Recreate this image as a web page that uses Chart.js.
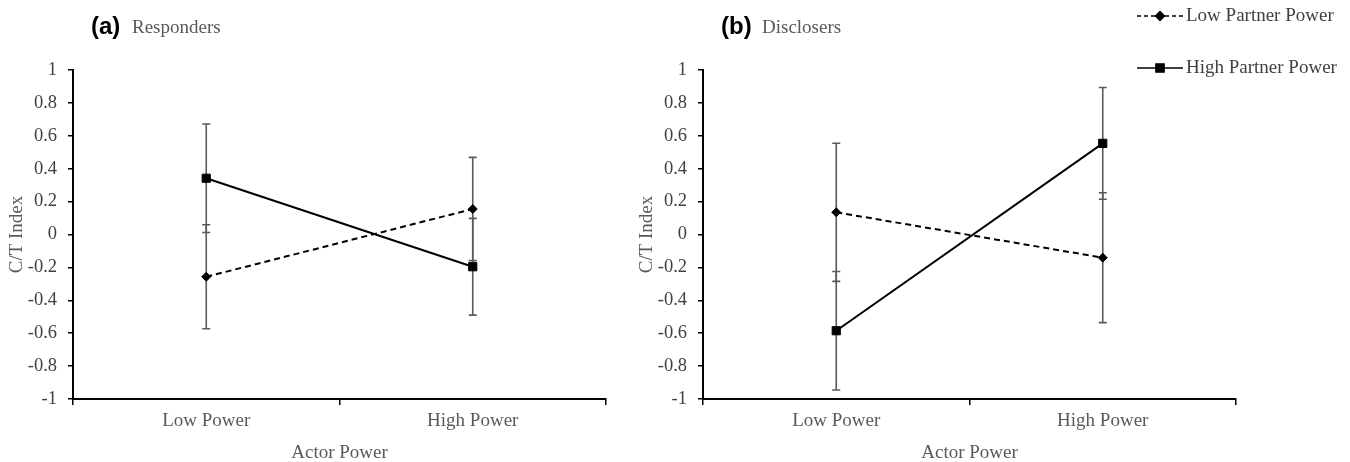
<!DOCTYPE html>
<html><head><meta charset="utf-8">
<script src="https://cdn.jsdelivr.net/npm/chart.js@4/dist/chart.umd.min.js"></script>
<style>
html,body{margin:0;padding:0;background:#fff;}
#wrap{position:relative;width:1350px;height:462px;overflow:hidden;}
.panel{position:absolute;top:0;height:462px;}
canvas{display:block;}
</style></head><body>
<div id="wrap">
<div class="panel" style="left:0;width:630px"><canvas id="ca" width="630" height="462"></canvas></div>
<div class="panel" style="left:630px;width:720px"><canvas id="cb" width="720" height="462"></canvas></div>
</div>
<script>
// ---- data ----
const categories = ['Low Power', 'High Power'];
const seriesNames = ['Low Partner Power', 'High Partner Power'];
const yTickValues = [-1, -0.8, -0.6, -0.4, -0.2, 0, 0.2, 0.4, 0.6, 0.8, 1];
const yTickLabels = ['-1', '-0.8', '-0.6', '-0.4', '-0.2', '0', '0.2', '0.4', '0.6', '0.8', '1'];

const respondersLowPartner = [-0.257, 0.155];
const respondersLowPartnerErr = [0.316, 0.314];
const respondersHighPartner = [0.342, -0.196];
const respondersHighPartnerErr = [0.330, 0.294];

const disclosersLowPartner = [0.135, -0.141];
const disclosersLowPartnerErr = [0.420, 0.395];
const disclosersHighPartner = [-0.585, 0.554];
const disclosersHighPartnerErr = [0.360, 0.340];

// ---- styling ----
const SERIF = "'Liberation Serif', 'Times New Roman', serif";
const SANS = "'Liberation Sans', Arial, sans-serif";
const TXT = '#595959';
const TICKTXT = '#404040';

const errorBarPlugin = {
  id: 'errorBars',
  beforeDatasetsDraw(chart) {
    const ctx = chart.ctx;
    const yScale = chart.scales.y;
    ctx.save();
    ctx.strokeStyle = '#5a5a5a';
    ctx.lineWidth = 1.6;
    chart.data.datasets.forEach((ds, i) => {
      const meta = chart.getDatasetMeta(i);
      meta.data.forEach((pt, j) => {
        const v = ds.data[j], e = ds.errors[j];
        const x = pt.x;
        const yT = yScale.getPixelForValue(v + e);
        const yB = yScale.getPixelForValue(v - e);
        ctx.beginPath();
        ctx.moveTo(x, yT); ctx.lineTo(x, yB);
        ctx.moveTo(x - 4, yT); ctx.lineTo(x + 4, yT);
        ctx.moveTo(x - 4, yB); ctx.lineTo(x + 4, yB);
        ctx.stroke();
      });
    });
    ctx.restore();
  }
};

const panelTitlePlugin = {
  id: 'panelTitle',
  afterDraw(chart, args, opts) {
    const ctx = chart.ctx;
    ctx.save();
    ctx.textBaseline = 'alphabetic';
    ctx.textAlign = 'left';
    ctx.fillStyle = '#000';
    ctx.font = "bold 24px " + SANS;
    ctx.fillText(opts.letter, 91, 34);
    ctx.fillStyle = TXT;
    ctx.font = "19px " + SERIF;
    ctx.fillText(opts.name, 132, 33);
    ctx.restore();
  }
};

const legendPlugin = {
  id: 'customLegend',
  afterDraw(chart, args, opts) {
    if (!opts.show) return;
    const ctx = chart.ctx;
    ctx.save();
    chart.data.datasets.forEach((ds, i) => {
      const y = i === 0 ? 16 : 68;
      const x0 = 507, x1 = 553;
      ctx.strokeStyle = '#000';
      ctx.lineWidth = 1.5;
      ctx.setLineDash(ds.borderDash && ds.borderDash.length ? [4, 3] : []);
      ctx.beginPath(); ctx.moveTo(x0, y); ctx.lineTo(x1, y); ctx.stroke();
      ctx.setLineDash([]);
      ctx.fillStyle = '#000';
      Chart.helpers.drawPoint(ctx, {pointStyle: ds.pointStyle, radius: ds.pointRadius, borderWidth: 1}, (x0 + x1) / 2, y);
      ctx.fillStyle = TICKTXT;
      ctx.font = "19px " + SERIF;
      ctx.textBaseline = 'middle';
      ctx.textAlign = 'left';
      ctx.fillText(ds.label, 556, y);
    });
    ctx.restore();
  }
};

function makeChart(id, letter, name, lowVals, lowErr, highVals, highErr, padRight, showLegend) {
  return new Chart(document.getElementById(id), {
    type: 'line',
    data: {
      labels: categories,
      datasets: [
        {
          label: seriesNames[0], data: lowVals, errors: lowErr,
          borderColor: '#000', borderWidth: 2, borderDash: [6, 4],
          pointStyle: 'rectRot', pointRadius: 4.5, pointBackgroundColor: '#000', pointBorderColor: '#000', pointBorderWidth: 1,
          fill: false, tension: 0
        },
        {
          label: seriesNames[1], data: highVals, errors: highErr,
          borderColor: '#000', borderWidth: 2,
          pointStyle: 'rect', pointRadius: 5.8, pointBackgroundColor: '#000', pointBorderColor: '#000', pointBorderWidth: 1,
          fill: false, tension: 0
        }
      ]
    },
    options: {
      responsive: false,
      animation: false,
      devicePixelRatio: 1,
      layout: {padding: {top: 70, right: padRight, bottom: 0, left: 0}},
      plugins: {
        legend: {display: false},
        tooltip: {enabled: false},
        panelTitle: {letter: letter, name: name},
        customLegend: {show: showLegend}
      },
      scales: {
        x: {
          type: 'category',
          offset: true,
          grid: {offset: true, drawOnChartArea: false, drawTicks: true, tickLength: 6, color: '#000', lineWidth: 1.5},
          border: {display: true, color: '#000', width: 2},
          ticks: {font: {family: SERIF, size: 19}, color: TXT, padding: 5, maxRotation: 0},
          title: {display: true, text: 'Actor Power', color: TXT, font: {family: SERIF, size: 19, lineHeight: 0.9}, padding: {top: 0, bottom: 0}},
          afterFit(s) { s.height = 63; }
        },
        y: {
          type: 'linear', min: -1, max: 1,
          afterBuildTicks(s) { s.ticks = yTickValues.map(v => ({value: v})); },
          grid: {drawOnChartArea: false, drawTicks: true, tickLength: 5, color: '#000', lineWidth: 1.5},
          border: {display: true, color: '#000', width: 2},
          ticks: {
            font: {family: SERIF, size: 18.5}, color: TICKTXT, padding: 11,
            callback: (v) => { const k = yTickValues.findIndex(t => Math.abs(t - v) < 1e-9); return k >= 0 ? yTickLabels[k] : ''; }
          },
          title: {display: true, text: 'C/T Index', color: TXT, font: {family: SERIF, size: 19}, padding: {top: 6, bottom: 0}},
          afterFit(s) { s.width = 73; }
        }
      }
    },
    plugins: [errorBarPlugin, panelTitlePlugin, legendPlugin]
  });
}

makeChart('ca', '(a)', 'Responders', respondersLowPartner, respondersLowPartnerErr, respondersHighPartner, respondersHighPartnerErr, 24, false);
makeChart('cb', '(b)', 'Disclosers', disclosersLowPartner, disclosersLowPartnerErr, disclosersHighPartner, disclosersHighPartnerErr, 114, true);
</script>
</body></html>
